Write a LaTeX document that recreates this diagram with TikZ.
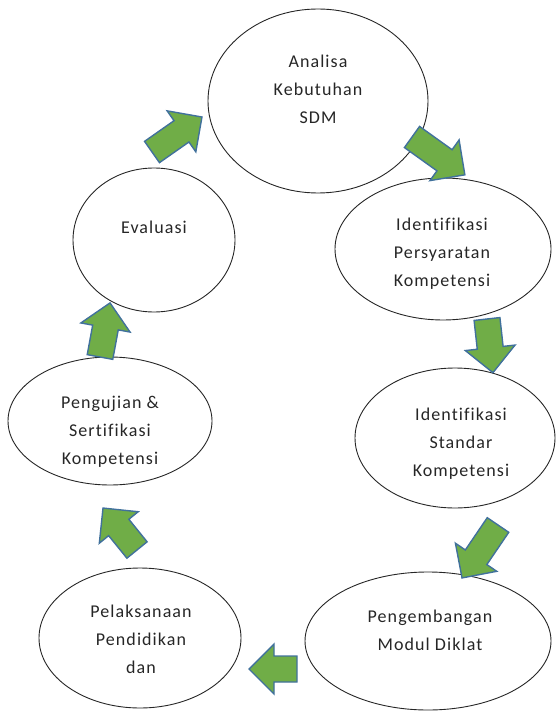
\documentclass[tikz,border=0pt]{standalone}
\usepackage{fontspec}
\setmainfont{Carlito}[LetterSpace=6.0, Ligatures={NoCommon}]
\usetikzlibrary{shapes.geometric}

\definecolor{arrowgreen}{RGB}{112,173,71}
\definecolor{arrowblue}{RGB}{65,113,156}

\tikzset{
  stage/.style={draw=black!85, line width=0.9pt, ellipse, inner sep=0pt},
  stagetext/.style={align=center, inner sep=0pt, text=black!85,
    font=\fontsize{18}{28}\selectfont},
  pics/bigarrow/.style={code={
    \filldraw[fill=arrowgreen, draw=arrowblue, line width=1.4pt, line join=miter]
      (0,-13) -- (#1-25,-13) -- (#1-25,-25) -- (#1,0) -- (#1-25,25)
      -- (#1-25,13) -- (0,13) -- cycle;
  }}
}

\begin{document}
\begin{tikzpicture}[x=1pt,y=-1pt]

\useasboundingbox (0,0) rectangle (557,711);

% the seven stages
\node[stage, minimum width=220pt, minimum height=184pt] (analisa) at (318,101) {};
\node[stage, minimum width=216pt, minimum height=142pt] (persyaratan) at (443,249) {};
\node[stage, minimum width=200pt, minimum height=140pt] (standar) at (455,438) {};
\node[stage, minimum width=246pt, minimum height=138pt] (pengembangan) at (428,641) {};
\node[stage, minimum width=202pt, minimum height=140pt] (pelaksanaan) at (140,638) {};
\node[stage, minimum width=204pt, minimum height=128pt] (pengujian) at (110,421) {};
\node[stage, minimum width=162pt, minimum height=144pt] (evaluasi) at (154,240) {};

% their texts
\node[stagetext] (tanalisa) at (318,89.5) {Analisa\\Kebutuhan\\SDM};
\node[stagetext] (tpersyaratan) at (442,253.5) {Identifikasi\\Persyaratan\\Kompetensi};
\node[stagetext] (tstandar) at (461,444) {Identifikasi\\Standar\\Kompetensi};
\node[stagetext] (tpengembangan) at (430,630) {Pengembangan\\Modul Diklat};
\node[stagetext] (tpelaksanaan) at (141,639) {Pelaksanaan\\Pendidikan\\dan};
\node[stagetext] (tpengujian) at (110,431.5) {Pengujian \&\\Sertifikasi\\Kompetensi};
\node[stagetext] (tevaluasi) at (154,227) {Evaluasi};

% block arrows round the cycle
\pic[rotate=35] (arA) at (152,152) {bigarrow=61};
\pic[rotate=-35.6] (arB) at (412,137) {bigarrow=65};
\pic[rotate=-83.7] (arC) at (487,319) {bigarrow=54};
\pic[rotate=235.8] (arD) at (498,525) {bigarrow=64};
\pic[rotate=180] (arE) at (297,669) {bigarrow=48};
\pic[rotate=129] (arF) at (137,550) {bigarrow=54};
\pic[rotate=79.5] (arG) at (100,357) {bigarrow=55};

\end{tikzpicture}
\end{document}
